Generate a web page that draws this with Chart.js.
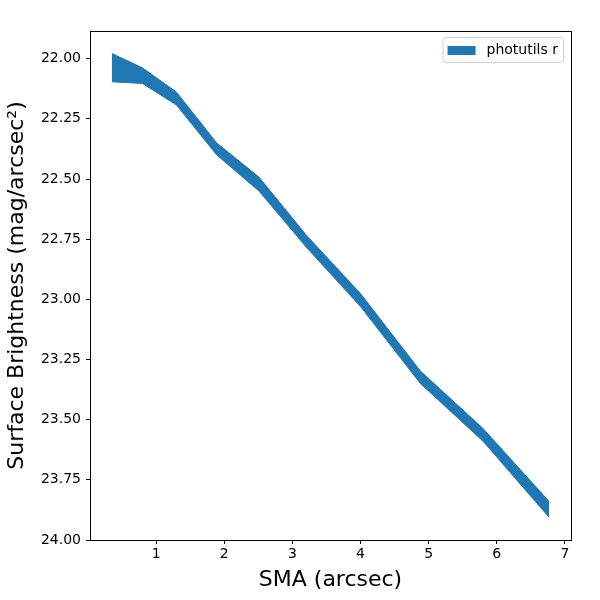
<!DOCTYPE html>
<html>
<head>
<meta charset="utf-8">
<script src="https://cdn.jsdelivr.net/npm/chart.js@4/dist/chart.umd.min.js"></script>
<style>
  html, body { margin: 0; padding: 0; background: #fff; }
  #wrap { width: 600px; height: 600px; }
</style>
</head>
<body>
<div id="wrap"><canvas id="sbChart"></canvas></div>
<script>
// semi-major axis (arcsec) and the band edges (mag/arcsec^2)
const sma = [0.35, 0.80, 1.30, 1.89, 2.51, 3.21, 4.00, 4.88, 5.80, 6.77];
const sbUpper = [21.978, 22.038, 22.139, 22.350, 22.492, 22.735, 22.976, 23.298, 23.537, 23.840];
const sbLower = [22.096, 22.103, 22.193, 22.400, 22.550, 22.785, 23.030, 23.350, 23.590, 23.906];
const yTicks = [22.00, 22.25, 22.50, 22.75, 23.00, 23.25, 23.50, 23.75, 24.00];
const xTicks = [1, 2, 3, 4, 5, 6, 7];

const blue = "#1f77b4";
const toPoints = (ys) => sma.map((x, i) => ({ x: x, y: ys[i] }));

// matplotlib-like frame round the plot area, plus the legend box in the top right
const framePlugin = {
  id: "frame",
  afterDraw(chart) {
    const { ctx, chartArea: a } = chart;
    ctx.save();
    ctx.strokeStyle = "#000";
    ctx.lineWidth = 1;
    ctx.strokeRect(a.left + 0.5, a.top + 0.5, a.right - a.left, a.bottom - a.top);

    const ds = chart.data.datasets[1];
    ctx.font = "14px 'DejaVu Sans'";
    const tw = ctx.measureText(ds.label).width;
    const w = 5 + 28 + 11 + tw + 5;
    const h = 25;
    const x = a.right - 8 - w;
    const y = a.top + 6;
    ctx.fillStyle = "rgba(255,255,255,0.8)";
    ctx.strokeStyle = "#d0d0d0";
    ctx.beginPath();
    ctx.roundRect(x + 0.5, y + 0.5, w, h, 3);
    ctx.fill();
    ctx.stroke();
    ctx.fillStyle = ds.backgroundColor;
    ctx.fillRect(x + 5, y + 9, 28, 9);
    ctx.fillStyle = "#000";
    ctx.textBaseline = "middle";
    ctx.fillText(ds.label, x + 44, y + 13.5);
    ctx.restore();
  },
};

const ctx = document.getElementById("sbChart");
new Chart(ctx, {
  type: "line",
  data: {
    datasets: [
      {
        label: "upper",
        data: toPoints(sbUpper),
        borderColor: blue,
        borderWidth: 1,
        pointRadius: 0,
        fill: false,
      },
      {
        label: "photutils r",
        data: toPoints(sbLower),
        borderColor: blue,
        backgroundColor: blue,
        borderWidth: 1,
        pointRadius: 0,
        fill: "-1",
      },
    ],
  },
  options: {
    responsive: true,
    maintainAspectRatio: false,
    animation: false,
    devicePixelRatio: 1,
    layout: { padding: { top: 31, right: 29, left: 0, bottom: 0 } },
    plugins: {
      legend: { display: false },
      tooltip: { enabled: false },
    },
    scales: {
      x: {
        type: "linear",
        min: 0.03,
        max: 7.09,
        afterFit: (s) => { s.height = 60; },
        afterBuildTicks: (s) => { s.ticks = xTicks.map((v) => ({ value: v })); },
        border: { display: false },
        grid: { display: true, drawOnChartArea: false, drawTicks: true, tickLength: 4, color: "#000" },
        ticks: {
          color: "#000",
          padding: 2,
          maxRotation: 0,
          font: { family: "DejaVu Sans", size: 14 },
          callback: (v) => String(v),
        },
        title: {
          display: true,
          text: "SMA (arcsec)",
          color: "#000",
          padding: { top: 0, bottom: 7 },
          font: { family: "DejaVu Sans", size: 22 },
        },
      },
      y: {
        type: "linear",
        reverse: true,
        min: 21.885,
        max: 24.0,
        afterFit: (s) => { s.width = 90; },
        afterBuildTicks: (s) => { s.ticks = yTicks.map((v) => ({ value: v })); },
        border: { display: false },
        grid: { display: true, drawOnChartArea: false, drawTicks: true, tickLength: 4, color: "#000" },
        ticks: {
          color: "#000",
          padding: 5,
          font: { family: "DejaVu Sans", size: 14 },
          callback: (v) => v.toFixed(2),
        },
        title: {
          display: true,
          text: "Surface Brightness (mag/arcsec²)",
          color: "#000",
          padding: { top: 4.5, bottom: 0 },
          font: { family: "DejaVu Sans", size: 22 },
        },
      },
    },
  },
  plugins: [framePlugin],
});
</script>
</body>
</html>
